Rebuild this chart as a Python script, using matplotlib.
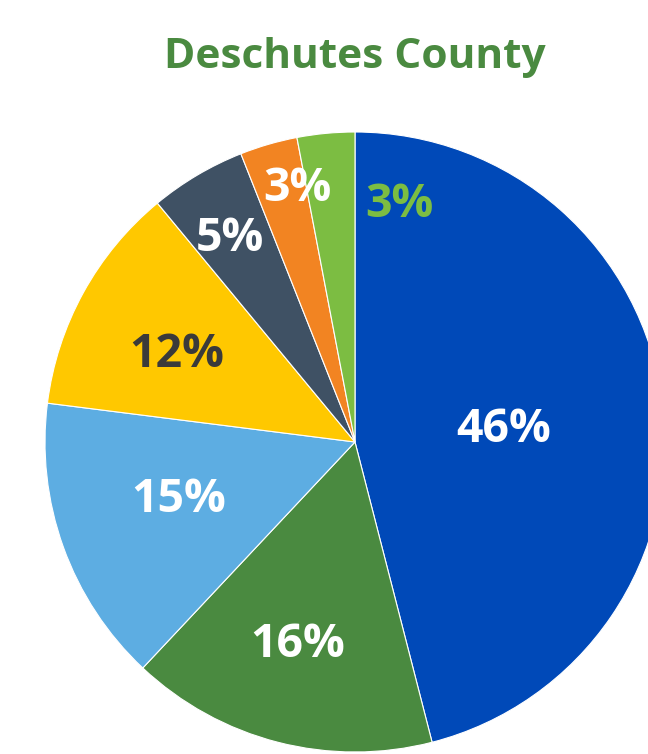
import numpy as np
import matplotlib.pyplot as plt

# --- dados ---
titulo = "Deschutes County"
valores = [46, 16, 15, 12, 5, 3, 3]
cores = ["#0049B8", "#4A8A40", "#5DADE2", "#FFC800", "#3F5164", "#F28422", "#7CBD42"]
cores_texto = ["white", "white", "white", "#3A3A3A", "white", "white", "#7CBD42"]
# posição dos rótulos (fração do raio) e deslocamento angular em graus
dist_rotulo = [0.48, 0.68, 0.60, 0.64, 0.77, 0.84, 0.78]
desloc_ang = [-2.5, -1.3, -1.7, 2.6, 1.1, -3.4, -16.0]

plt.rcParams['font.family'] = ['Open Sans', 'DejaVu Sans']

W, H = 648, 754
cx, cy, R = 355, 442, 310  # centro/raio em pixels

fig = plt.figure(figsize=(W / 100, H / 100), dpi=100)
ax = fig.add_axes([0, 0, 1, 1])

wedges, _ = ax.pie(valores, colors=cores, startangle=90, counterclock=False,
                   radius=1, wedgeprops=dict(edgecolor='white', linewidth=0.8))

for w, v, c, d, off in zip(wedges, valores, cores_texto, dist_rotulo, desloc_ang):
    ang = np.deg2rad((w.theta1 + w.theta2) / 2 + off)
    ax.text(d * np.cos(ang), d * np.sin(ang), f"{v}%", color=c, fontsize=33.5,
            fontweight='bold', ha='center', va='center')

ax.set_xlim(-cx / R, (W - cx) / R)
ax.set_ylim(-(H - cy) / R, cy / R)
ax.set_aspect('equal')
ax.axis('off')

fig.text(355 / W, 1 - 58 / H, titulo, color="#4A8A40", fontsize=30.5,
         fontweight='bold', ha='center', va='center')

fig.savefig("out.png", dpi=100)
